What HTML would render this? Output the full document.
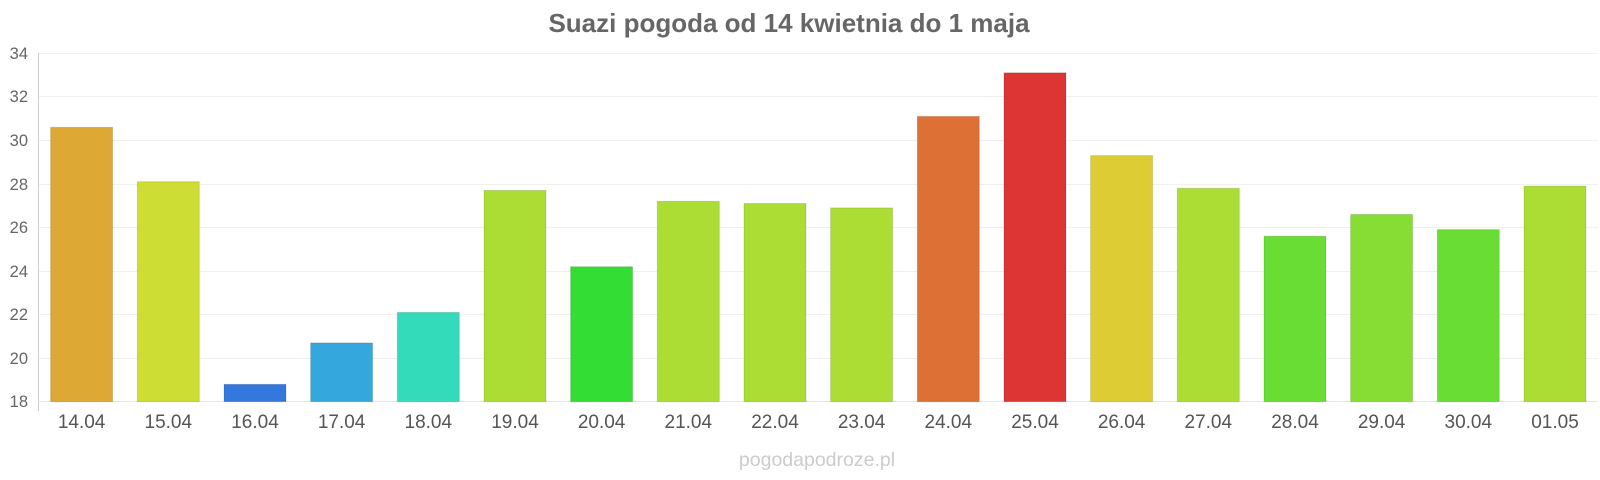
<!DOCTYPE html>
<html><head><meta charset="utf-8"><style>
html,body{margin:0;padding:0;background:#fff;}
svg{display:block;font-family:"Liberation Sans",Arial,sans-serif;}
</style></head><body>
<svg width="1600" height="480" viewBox="0 0 1600 480" xmlns="http://www.w3.org/2000/svg">
<text x="789" y="32" text-anchor="middle" font-size="26" font-weight="bold" fill="#666">Suazi pogoda od 14 kwietnia do 1 maja</text>
<g stroke="#f0f0f0" stroke-width="1">
<line x1="38" x2="1598" y1="53.5" y2="53.5"/>
<line x1="38" x2="1598" y1="96.5" y2="96.5"/>
<line x1="38" x2="1598" y1="140.5" y2="140.5"/>
<line x1="38" x2="1598" y1="184.5" y2="184.5"/>
<line x1="38" x2="1598" y1="227.5" y2="227.5"/>
<line x1="38" x2="1598" y1="271.5" y2="271.5"/>
<line x1="38" x2="1598" y1="314.5" y2="314.5"/>
<line x1="38" x2="1598" y1="358.5" y2="358.5"/>
</g>
<line x1="38.5" x2="38.5" y1="53" y2="411" stroke="#ccc"/>
<line x1="38" x2="1598" y1="401.5" y2="401.5" stroke="#e6e6e6"/>
<g font-size="16.5" fill="#666" text-anchor="end">
<text x="28" y="59">34</text><text x="28" y="102">32</text><text x="28" y="146">30</text>
<text x="28" y="190">28</text><text x="28" y="233">26</text><text x="28" y="277">24</text>
<text x="28" y="320">22</text><text x="28" y="364">20</text><text x="28" y="407">18</text>
</g>
<g stroke="rgba(0,0,0,0.12)">
<rect x="50.6" y="127.3" width="62" height="274.4" fill="#dda834"/>
<rect x="137.3" y="181.7" width="62" height="220.0" fill="#cedd34"/>
<rect x="224.0" y="384.3" width="62" height="17.4" fill="#3477dd"/>
<rect x="310.6" y="342.9" width="62" height="58.8" fill="#34a8dd"/>
<rect x="397.3" y="312.4" width="62" height="89.3" fill="#34dbbb"/>
<rect x="484.0" y="190.4" width="62" height="211.3" fill="#acdd34"/>
<rect x="570.6" y="266.7" width="62" height="135.0" fill="#34dd34"/>
<rect x="657.3" y="201.3" width="62" height="200.4" fill="#acdd34"/>
<rect x="744.0" y="203.5" width="62" height="198.2" fill="#acdd34"/>
<rect x="830.6" y="207.9" width="62" height="193.8" fill="#acdd34"/>
<rect x="917.3" y="116.4" width="62" height="285.3" fill="#dd7034"/>
<rect x="1004.0" y="72.8" width="62" height="328.9" fill="#dd3434"/>
<rect x="1090.6" y="155.6" width="62" height="246.1" fill="#ddcc34"/>
<rect x="1177.3" y="188.3" width="62" height="213.4" fill="#acdd34"/>
<rect x="1264.0" y="236.2" width="62" height="165.5" fill="#69dd34"/>
<rect x="1350.6" y="214.4" width="62" height="187.3" fill="#87dd34"/>
<rect x="1437.3" y="229.6" width="62" height="172.1" fill="#69dd34"/>
<rect x="1524.0" y="186.1" width="62" height="215.6" fill="#acdd34"/>
</g>
<g font-size="19" fill="#555" text-anchor="middle">
<text x="81.6" y="428">14.04</text><text x="168.3" y="428">15.04</text><text x="255.0" y="428">16.04</text>
<text x="341.6" y="428">17.04</text><text x="428.3" y="428">18.04</text><text x="515.0" y="428">19.04</text>
<text x="601.6" y="428">20.04</text><text x="688.3" y="428">21.04</text><text x="775.0" y="428">22.04</text>
<text x="861.6" y="428">23.04</text><text x="948.3" y="428">24.04</text><text x="1035.0" y="428">25.04</text>
<text x="1121.6" y="428">26.04</text><text x="1208.3" y="428">27.04</text><text x="1295.0" y="428">28.04</text>
<text x="1381.6" y="428">29.04</text><text x="1468.3" y="428">30.04</text><text x="1555.0" y="428">01.05</text>
</g>
<text x="817" y="466" text-anchor="middle" font-size="19.5" fill="#ccc">pogodapodroze.pl</text>
</svg>
</body></html>
